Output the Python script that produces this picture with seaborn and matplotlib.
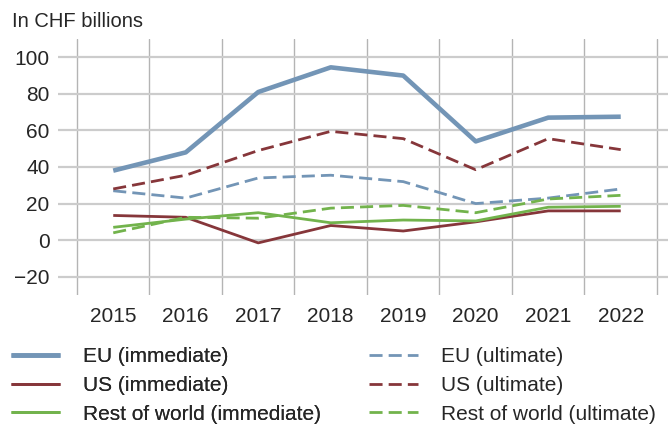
import matplotlib
matplotlib.use("Agg")
import matplotlib.pyplot as plt
import seaborn as sns
import pandas as pd

# Values (CHF billions)
years = [2015, 2016, 2017, 2018, 2019, 2020, 2021, 2022]
eu_immediate = [38, 48, 81, 94.5, 90, 54, 67, 67.5]
us_immediate = [13.5, 12.5, -1.5, 8, 5, 10, 16, 16]
row_immediate = [7, 11.5, 15, 9.5, 11, 10.5, 18, 18.5]
eu_ultimate = [27, 23, 34, 35.5, 32, 20, 23, 28]
us_ultimate = [28, 35.5, 49, 59.5, 55.5, 38.5, 55.5, 49.5]
row_ultimate = [4, 12.5, 12, 17.5, 19, 15, 22.5, 24.5]

blue, red, green = "#7395b6", "#86363a", "#72b34c"
series = [
    ("EU (immediate)", eu_immediate, blue, 3.3, "solid"),
    ("US (immediate)", us_immediate, red, 2.0, "solid"),
    ("Rest of world (immediate)", row_immediate, green, 2.0, "solid"),
    ("EU (ultimate)", eu_ultimate, blue, 2.0, "dashed"),
    ("US (ultimate)", us_ultimate, red, 2.0, "dashed"),
    ("Rest of world (ultimate)", row_ultimate, green, 2.0, "dashed"),
]

sns.set_style("white")
plt.rcParams['font.family'] = ['Liberation Sans', 'DejaVu Sans']
txt = '#262626'

fig = plt.figure(figsize=(6.68, 4.25), dpi=100)
ax = fig.add_axes([58 / 668, 1 - 295 / 425, 610 / 668, 256 / 425])

for name, vals, color, lw, ls in series:
    df = pd.DataFrame({'Year': years, 'Value': vals})
    sns.lineplot(data=df, x='Year', y='Value', ax=ax, color=color,
                 linewidth=lw, label=name)
    l = ax.get_lines()[-1]
    if ls == "dashed":
        l.set_dashes((4.7, 2.2))
    l.set_solid_capstyle('butt')
    l.set_dash_capstyle('butt')

ax.set_xlim(2014.238, 2022.652)
ax.set_ylim(-30, 110)
ax.set_xticks(years)
ax.set_xticklabels([str(y) for y in years])
ax.set_xticks([y + 0.5 for y in [2014] + years], minor=True)
ax.set_yticks([-20, 0, 20, 40, 60, 80, 100])
ax.set_yticklabels(['\u221220', '0', '20', '40', '60', '80', '100'])

ax.grid(False)
ax.grid(axis='x', which='minor', color='#b4b4b4', linewidth=1.0)
ax.grid(axis='y', which='major', color='#cccccc', linewidth=1.6)
ax.set_axisbelow(True)
for s in ax.spines.values():
    s.set_visible(False)
ax.tick_params(axis='both', which='both', length=0, labelsize=15, colors=txt)
ax.tick_params(axis='x', pad=8.5)
ax.tick_params(axis='y', pad=6)
ax.set_xlabel('')
ax.set_ylabel('')

fig.text(12 / 668, 1 - 27 / 425, 'In CHF billions', fontsize=14.5, color=txt,
         va='baseline', ha='left')

handles, labels = ax.get_legend_handles_labels()
ax.get_legend().remove()
leg_kw = dict(loc='upper left', frameon=False, fontsize=15, handlelength=2.35,
              handletextpad=1.1, labelspacing=0.47, borderaxespad=0.0,
              borderpad=0.0, labelcolor=txt)
leg1 = fig.legend(handles[:3], labels[:3], bbox_to_anchor=(11 / 668, 1 - 347 / 425), **leg_kw)
fig.add_artist(leg1)
fig.legend(handles[3:], labels[3:], bbox_to_anchor=(369 / 668, 1 - 347 / 425), **leg_kw)

fig.savefig('out.png', dpi=100)
